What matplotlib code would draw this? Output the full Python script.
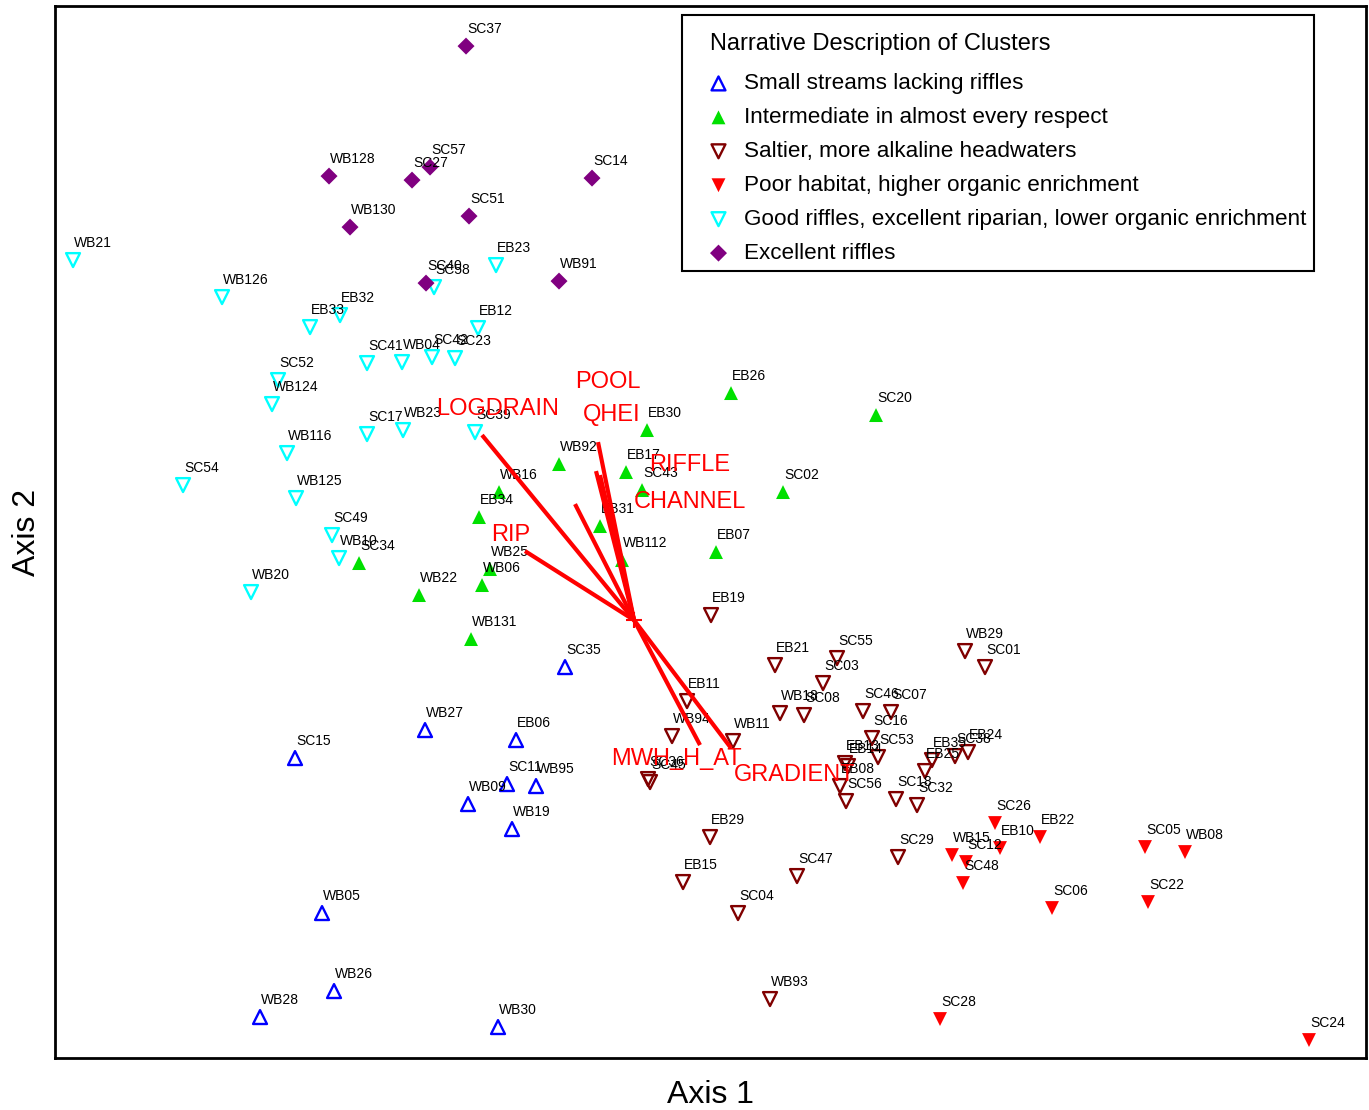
import numpy as np
import matplotlib
matplotlib.use('Agg')
from matplotlib import pyplot as plt

plt.rcParams['font.family'] = ['Liberation Sans', 'DejaVu Sans']

# ordination scores (axis 1, axis 2) per site, grouped by cluster
small_names = ['SC35', 'WB27', 'EB06', 'SC15', 'SC11', 'WB95', 'WB09', 'WB19',
               'WB05', 'WB26', 'WB28', 'WB30']
small_x = [-69, -209, -118, -339, -127, -98, -166, -122, -312, -300, -374, -136]
small_y = [-47, -110, -120, -138, -164, -166, -184, -209, -293, -371, -397, -407]

inter_names = ['EB26', 'SC20', 'EB30', 'WB92', 'EB17', 'SC43', 'SC02', 'WB16',
               'EB34', 'EB31', 'EB07', 'WB112', 'SC34', 'WB25', 'WB06', 'WB22', 'WB131']
inter_x = [97, 242, 13, -75, -8, 8, 149, -135, -155, -34, 82, -12, -275, -144, -152, -215, -163]
inter_y = [227, 205, 190, 156, 148, 130, 128, 128, 103, 94, 68, 60, 57, 51, 35, 25, -19]

salt_names = ['EB19', 'EB21', 'SC55', 'WB29', 'SC01', 'SC03', 'EB11', 'WB18', 'SC08',
              'SC46', 'SC07', 'WB94', 'WB11', 'SC16', 'SC53', 'EB13', 'EB14', 'EB08',
              'SC56', 'SC18', 'SC32', 'EB35', 'EB25', 'SC38', 'EB24', 'SC29', 'EB29',
              'EB15', 'SC47', 'SC04', 'WB93', 'SC36', 'SC45']
salt_x = [77, 141, 203, 331, 351, 189, 53, 146, 170, 229, 257, 38, 99, 238, 244, 211, 214,
          206, 212, 262, 283, 298, 291, 321, 334, 264, 76, 49, 163, 104, 136, 14, 16]
salt_y = [5, -45, -38, -31, -47, -63, -81, -93, -95, -91, -92, -116, -121, -118, -137, -143,
          -146, -166, -181, -179, -185, -140, -151, -136, -132, -237, -217, -262, -256, -293,
          -379, -159, -162]

poor_names = ['SC26', 'EB22', 'EB10', 'SC05', 'WB08', 'WB15', 'SC12', 'SC48', 'SC06',
              'SC22', 'SC28', 'SC24']
poor_x = [361, 406, 366, 511, 551, 318, 332, 329, 418, 514, 306, 675]
poor_y = [-203, -217, -228, -227, -232, -235, -242, -263, -288, -282, -399, -420]

good_names = ['WB21', 'EB23', 'SC58', 'WB126', 'EB32', 'EB33', 'EB12', 'SC41', 'WB04',
              'SC42', 'SC23', 'SC52', 'WB124', 'SC17', 'WB23', 'SC39', 'WB116', 'SC54',
              'WB125', 'SC49', 'WB10', 'WB20']
good_x = [-561, -138, -200, -412, -294, -324, -156, -267, -232, -202, -179, -356, -362,
          -267, -231, -159, -347, -451, -338, -302, -295, -383]
good_y = [360, 355, 333, 323, 305, 293, 292, 257, 258, 263, 262, 240, 216, 186, 190, 188,
          167, 135, 122, 85, 62, 28]

excel_names = ['SC37', 'WB128', 'SC27', 'SC57', 'SC14', 'SC51', 'WB130', 'SC40', 'WB91']
excel_x = [-168, -305, -222, -204, -42, -165, -284, -208, -75]
excel_y = [574, 444, 440, 453, 442, 404, 393, 337, 339]

# environmental vectors (joint plot) and where their names sit
vec_names = ['POOL', 'QHEI', 'RIFFLE', 'CHANNEL', 'RIP', 'LOGDRAIN', 'MWH_H_AT', 'GRADIENT']
vec_x = [-36, -38, -34, -59, -109, -152, 66, 97]
vec_y = [178, 149, 145, 116, 69, 185, -125, -128]
vec_label_x = [-26, -22, 56, 56, -123, -136, 42, 161]
vec_label_y = [238, 205, 155, 118, 85, 211, -139, -155]

groups = [
    ('Small streams lacking riffles', small_names, small_x, small_y,
     dict(marker='^', facecolors='none', edgecolors='#0000ff')),
    ('Intermediate in almost every respect', inter_names, inter_x, inter_y,
     dict(marker='^', c='#00e000', edgecolors='none')),
    ('Saltier, more alkaline headwaters', salt_names, salt_x, salt_y,
     dict(marker='v', facecolors='none', edgecolors='#800000')),
    ('Poor habitat, higher organic enrichment', poor_names, poor_x, poor_y,
     dict(marker='v', c='#ff0000', edgecolors='none')),
    ('Good riffles, excellent riparian, lower organic enrichment', good_names, good_x, good_y,
     dict(marker='v', facecolors='none', edgecolors='#00ffff')),
    ('Excellent riffles', excel_names, excel_x, excel_y,
     dict(marker='D', c='#800080', edgecolors='none')),
]

fig = plt.figure(figsize=(13.69, 11.10), dpi=100)
ax = fig.add_axes([0.0402, 0.0468, 0.9576, 0.9477])

for label, names, xs, ys, style in groups:
    size = 75 if style['marker'] == 'D' else 100
    ax.scatter(xs, ys, s=size, linewidths=1.7, label=label, zorder=2, **style)
    for name, x, y in zip(names, xs, ys):
        ax.annotate(name, (x, y), xytext=(1, 17), textcoords='offset pixels',
                    ha='left', va='center', fontsize=10, zorder=3)

# vectors from the centroid
for name, x, y, lx, ly in zip(vec_names, vec_x, vec_y, vec_label_x, vec_label_y):
    ax.plot([0, x], [0, y], color='red', lw=3, solid_capstyle='butt', zorder=4)
    ax.text(lx, ly, name, color='red', fontsize=17, ha='center', va='center', zorder=5)
ax.scatter([0], [0], marker='+', s=120, color='red', linewidths=1.5, zorder=4)

ax.set_xlim(-579, 732)
ax.set_ylim(-438, 614)
ax.set_xticks([])
ax.set_yticks([])
for spine in ax.spines.values():
    spine.set_linewidth(2)

ax.set_xlabel('Axis 1', fontsize=23, labelpad=16)
ax.set_ylabel('Axis 2', fontsize=23, labelpad=9.5)

leg = ax.legend(title='Narrative Description of Clusters', loc='upper right',
                bbox_to_anchor=(0.9603, 0.9914), borderaxespad=0, fontsize=16.2,
                title_fontsize=17, frameon=True, fancybox=False, edgecolor='black',
                framealpha=1, borderpad=0.33, labelspacing=0.575, handlelength=2.6,
                handletextpad=-0.16, alignment='left', scatterpoints=1, markerscale=1.0)
leg.get_frame().set_linewidth(1.5)
# extra room between the title and the entries, title nudged right/down
leg._legend_box.sep = 20.7
leg.get_title().set_position((21, -10))

fig.savefig('out.png', dpi=100)
